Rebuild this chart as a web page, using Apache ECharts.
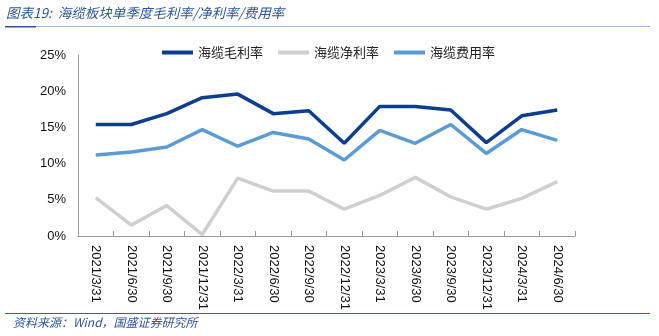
<!DOCTYPE html>
<html><head><meta charset="utf-8">
<script src="https://cdn.jsdelivr.net/npm/echarts@6/dist/echarts.min.js"></script>
<style>html,body{margin:0;padding:0;background:#fff}#c{width:659px;height:336px}</style>
</head><body><div id="c"></div>
<script>
const categories = ['2021/3/31','2021/6/30','2021/9/30','2021/12/31','2022/3/31','2022/6/30','2022/9/30','2022/12/31','2023/3/31','2023/6/30','2023/9/30','2023/12/31','2024/3/31','2024/6/30'];
const grossMargin = [15.4,15.4,16.9,19.1,19.6,16.9,17.3,12.8,17.9,17.9,17.4,12.9,16.6,17.4];
const netMargin = [5.3,1.5,4.2,0.2,8.0,6.2,6.2,3.7,5.6,8.1,5.4,3.7,5.2,7.5];
const expenseRatio = [11.2,11.6,12.3,14.7,12.4,14.3,13.4,10.5,14.6,12.8,15.4,11.4,14.7,13.2];
const seriesNames = ['海缆毛利率','海缆净利率','海缆费用率'];
const yTicks = [0,5,10,15,20,25];

const chart = echarts.init(document.getElementById('c'), null, {renderer:'canvas'});
const cjk = '"Noto Sans CJK SC", sans-serif';
chart.setOption({
  animation:false,
  backgroundColor:'#fff',
  graphic:[
    {type:'text', left:6, top:6, style:{text:'图表19:  海缆板块单季度毛利率/净利率/费用率', font:'italic 13.5px '+cjk, fill:'#2E5597'}},
    {type:'rect', shape:{x:5,y:26,width:645,height:1}, style:{fill:'#9DB7DD'}},
    {type:'rect', shape:{x:5,y:26,width:31,height:1.5}, style:{fill:'#2E5597'}},
    {type:'rect', shape:{x:5,y:313,width:645,height:1}, style:{fill:'#2A62B0'}},
    {type:'text', left:13, top:316, style:{text:'资料来源：Wind，国盛证券研究所', font:'italic 12px '+cjk, fill:'#2E5597'}}
  ],
  legend:{
    top:41, left:157, itemWidth:31, itemHeight:4, itemGap:15,
    icon:'rect',
    textStyle:{fontFamily:cjk, fontSize:13, color:'#222'},
    data:seriesNames
  },
  grid:{left:78, right:84, top:55, bottom:100},
  xAxis:{
    type:'category', data:categories, boundaryGap:true,
    axisLine:{lineStyle:{color:'#999', width:1}},
    axisTick:{show:true, inside:true, length:5, lineStyle:{color:'#999'}},
    axisLabel:{rotate:-90, fontFamily:'"Liberation Sans", Arial, sans-serif', fontSize:13, color:'#111', margin:9, interval:0}
  },
  yAxis:{
    type:'value', min:0, max:25, interval:5,
    axisLine:{show:true, lineStyle:{color:'#999'}},
    axisTick:{show:false},
    splitLine:{show:false},
    axisLabel:{formatter:v=>v+'%', fontFamily:'"Liberation Sans", Arial, sans-serif', fontSize:13, color:'#111', margin:12}
  },
  series:[
    {name:seriesNames[0], type:'line', data:grossMargin, symbol:'none', lineStyle:{width:3.5, color:'#0B3D91'}, itemStyle:{color:'#0B3D91'}},
    {name:seriesNames[1], type:'line', data:netMargin, symbol:'none', lineStyle:{width:3.5, color:'#CFCFCF'}, itemStyle:{color:'#CFCFCF'}},
    {name:seriesNames[2], type:'line', data:expenseRatio, symbol:'none', lineStyle:{width:3.5, color:'#5B9BD5'}, itemStyle:{color:'#5B9BD5'}}
  ]
});
</script></body></html>
